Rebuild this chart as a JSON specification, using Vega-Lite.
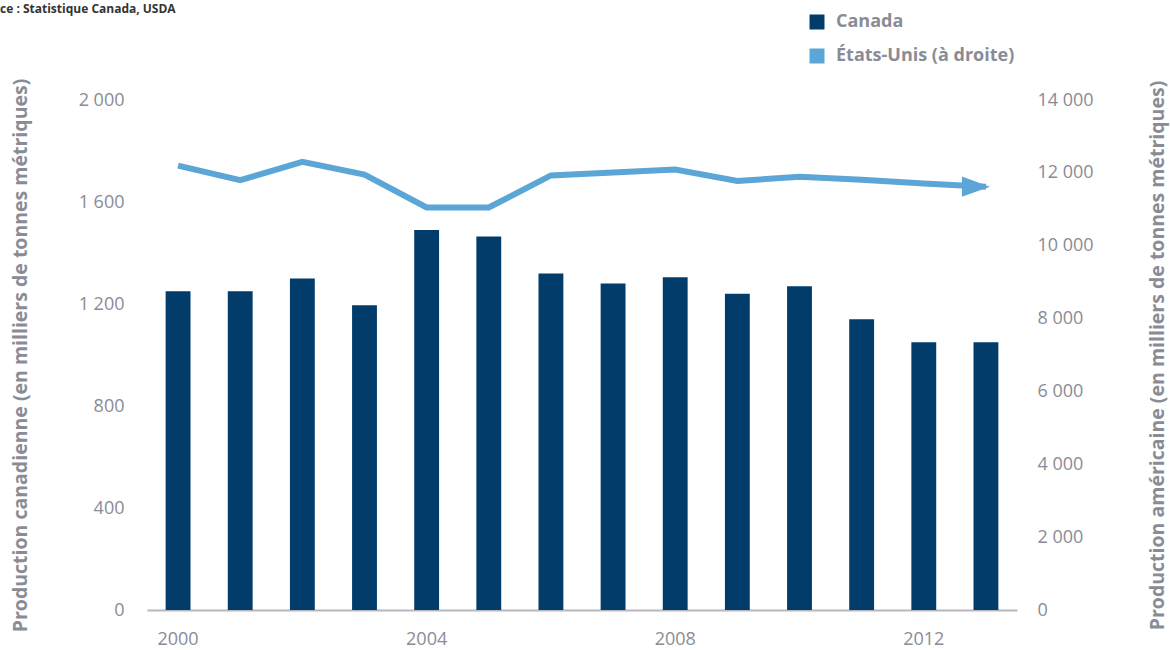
{
  "$schema": "https://vega.github.io/schema/vega-lite/v6.json",
  "width": 870,
  "height": 510,
  "autosize": {"type": "none"},
  "padding": {"left": 147, "top": 100, "right": 153, "bottom": 40},
  "background": "white",
  "config": {"font": "Open Sans", "view": {"stroke": null}},
  "title": {
    "text": "ce : Statistique Canada, USDA",
    "anchor": "start",
    "frame": "group",
    "fontSize": 12,
    "fontWeight": "bold",
    "color": "#333333",
    "dx": -147,
    "dy": 3,
    "offset": 0
  },
  "data": {
    "values": [
      {"year": 2000, "series": "Canada", "value": 1250},
      {"year": 2001, "series": "Canada", "value": 1250},
      {"year": 2002, "series": "Canada", "value": 1300},
      {"year": 2003, "series": "Canada", "value": 1195},
      {"year": 2004, "series": "Canada", "value": 1490},
      {"year": 2005, "series": "Canada", "value": 1465},
      {"year": 2006, "series": "Canada", "value": 1320},
      {"year": 2007, "series": "Canada", "value": 1280},
      {"year": 2008, "series": "Canada", "value": 1305},
      {"year": 2009, "series": "Canada", "value": 1240},
      {"year": 2010, "series": "Canada", "value": 1270},
      {"year": 2011, "series": "Canada", "value": 1140},
      {"year": 2012, "series": "Canada", "value": 1050},
      {"year": 2013, "series": "Canada", "value": 1050},
      {"year": 2000, "series": "États-Unis (à droite)", "value": 12200},
      {"year": 2001, "series": "États-Unis (à droite)", "value": 11800},
      {"year": 2002, "series": "États-Unis (à droite)", "value": 12300},
      {"year": 2003, "series": "États-Unis (à droite)", "value": 11950},
      {"year": 2004, "series": "États-Unis (à droite)", "value": 11050},
      {"year": 2005, "series": "États-Unis (à droite)", "value": 11050},
      {"year": 2006, "series": "États-Unis (à droite)", "value": 11930},
      {"year": 2007, "series": "États-Unis (à droite)", "value": 12010},
      {"year": 2008, "series": "États-Unis (à droite)", "value": 12090},
      {"year": 2009, "series": "États-Unis (à droite)", "value": 11780},
      {"year": 2010, "series": "États-Unis (à droite)", "value": 11890},
      {"year": 2011, "series": "États-Unis (à droite)", "value": 11810},
      {"year": 2012, "series": "États-Unis (à droite)", "value": 11710},
      {"year": 2013, "series": "États-Unis (à droite)", "value": 11620}
    ]
  },
  "layer": [
    {
      "transform": [{"filter": "datum.series === 'Canada'"}],
      "mark": {"type": "bar"},
      "encoding": {
        "x": {
          "field": "year",
          "type": "ordinal",
          "scale": {"paddingInner": 0.6, "paddingOuter": 0.3},
          "axis": {
            "values": [2000, 2004, 2008, 2012],
            "title": null,
            "labelAngle": 0,
            "ticks": false,
            "domain": true,
            "domainColor": "#b8b8bc",
            "domainWidth": 2,
            "labelPadding": 20,
            "labelFontSize": 18,
            "labelColor": "#8a8c95",
            "grid": false
          }
        },
        "y": {
          "field": "value",
          "type": "quantitative",
          "scale": {"domain": [0, 2000]},
          "axis": {
            "values": [0, 400, 800, 1200, 1600, 2000],
            "labelExpr": "replace(format(datum.value, ','), ',', ' ')",
            "domain": false,
            "ticks": false,
            "grid": false,
            "labelPadding": 23,
            "labelFontSize": 18,
            "labelColor": "#8a8c95",
            "title": "Production canadienne (en milliers de tonnes métriques)",
            "titleFontSize": 19.5,
            "titleFontWeight": "bold",
            "titleColor": "#8a8c95",
            "titleX": -127,
            "titleY": 255,
            "titleAngle": -90,
            "titleAlign": "center",
            "titleBaseline": "middle"
          }
        },
        "color": {
          "field": "series",
          "type": "nominal",
          "scale": {
            "domain": ["Canada", "États-Unis (à droite)"],
            "range": ["#023c6b", "#5ba6d7"]
          },
          "legend": {
            "orient": "none",
            "legendX": 661,
            "legendY": -87,
            "title": null,
            "symbolType": "square",
            "symbolSize": 225,
            "symbolStrokeWidth": 0,
            "labelFontSize": 18,
            "labelFontWeight": "bold",
            "labelColor": "#8a8c95",
            "labelOffset": 10,
            "labelLimit": 400,
            "rowPadding": 16
          }
        }
      }
    },
    {
      "transform": [{"filter": "datum.series !== 'Canada'"}],
      "encoding": {
        "x": {"field": "year", "type": "ordinal"},
        "y": {
          "field": "value",
          "type": "quantitative",
          "scale": {"domain": [0, 14000]},
          "axis": {
            "orient": "right",
            "values": [0, 2000, 4000, 6000, 8000, 10000, 12000, 14000],
            "labelExpr": "replace(format(datum.value, ','), ',', ' ')",
            "domain": false,
            "ticks": false,
            "grid": false,
            "labelPadding": 20,
            "labelFontSize": 18,
            "labelColor": "#8a8c95",
            "title": "Production américaine (en milliers de tonnes métriques)",
            "titleFontSize": 19.5,
            "titleFontWeight": "bold",
            "titleColor": "#8a8c95",
            "titleX": 140,
            "titleY": 255,
            "titleAngle": -90,
            "titleAlign": "center",
            "titleBaseline": "middle"
          }
        }
      },
      "layer": [
        {
          "mark": {"type": "line", "color": "#5ba6d7", "strokeWidth": 6, "strokeJoin": "miter"}
        },
        {
          "transform": [{"filter": "datum.year === 2013"}],
          "mark": {
            "type": "point",
            "filled": true,
            "opacity": 1,
            "color": "#5ba6d7",
            "shape": "M-1,-0.72L1,0L-1,0.72Z",
            "size": 784,
            "xOffset": -10,
            "strokeWidth": 0
          }
        }
      ]
    }
  ],
  "resolve": {"scale": {"y": "independent"}}
}
